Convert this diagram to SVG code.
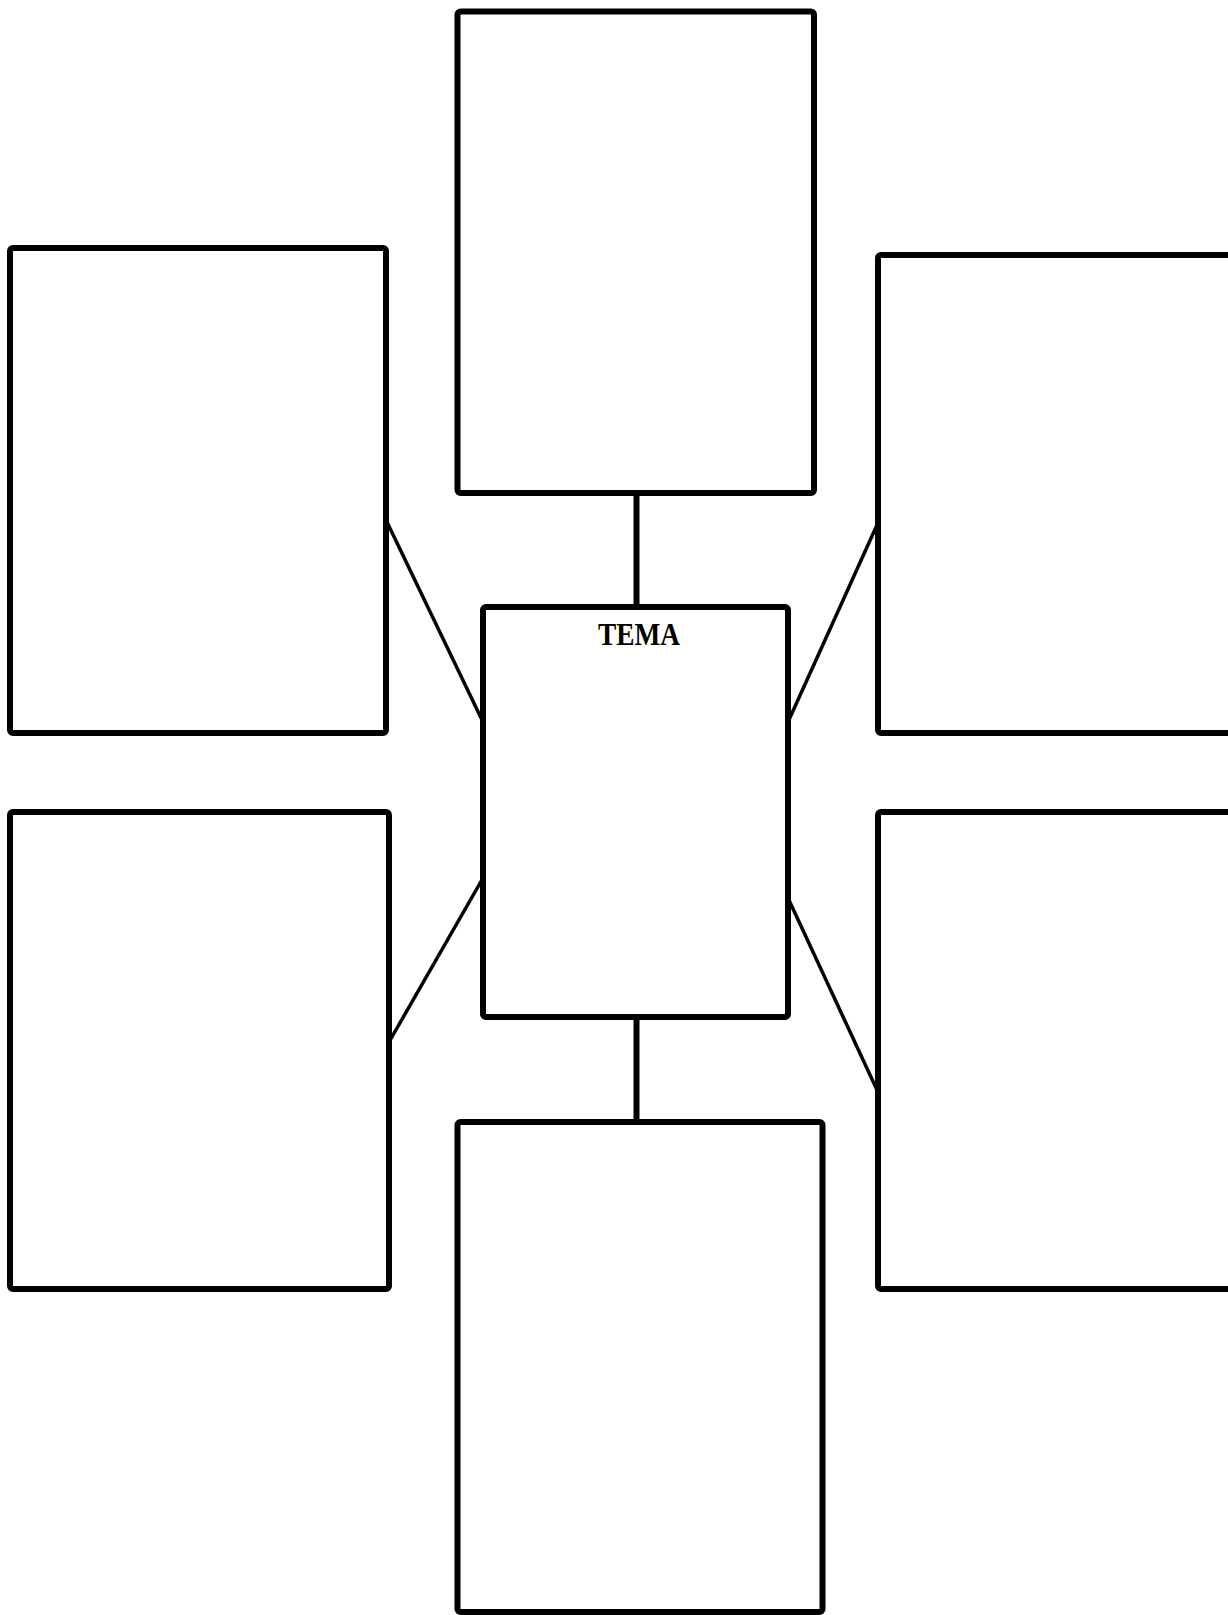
<svg xmlns="http://www.w3.org/2000/svg" width="1228" height="1615" viewBox="0 0 1228 1615">
<style>
.box{fill:#fff;stroke:#000;stroke-width:6}
.c{stroke:#000;fill:none}
.v{stroke-width:6}
.d{stroke-width:3.5}
.t{font-family:"Liberation Serif",serif;font-weight:bold;font-size:32px;fill:#000}
</style>
<rect width="1228" height="1615" fill="#fff"/>
<g id="connectors">
<line class="c v" x1="636.5" y1="493" x2="636.5" y2="607"/>
<line class="c v" x1="636.5" y1="1017" x2="636.5" y2="1122"/>
<line class="c d" x1="386" y1="520" x2="483" y2="722"/>
<line class="c d" x1="877" y1="525" x2="788" y2="722"/>
<line class="c d" x1="483" y1="878" x2="389" y2="1042"/>
<line class="c d" x1="788" y1="898" x2="877" y2="1090"/>
</g>
<g id="top"><rect class="box" x="457.5" y="11.5" width="356.5" height="481.5" rx="3"/></g>
<g id="left-top"><rect class="box" x="10" y="248" width="376" height="485" rx="3"/></g>
<g id="left-bottom"><rect class="box" x="10" y="812" width="379" height="477" rx="3"/></g>
<g id="right-top"><rect class="box" x="878" y="255" width="360" height="478" rx="3"/></g>
<g id="right-bottom"><rect class="box" x="878" y="812" width="360" height="477" rx="3"/></g>
<g id="bottom"><rect class="box" x="457.5" y="1122" width="365" height="490" rx="3"/></g>
<g id="center"><rect class="box" x="483" y="607" width="305" height="410" rx="3"/>
<text class="t" x="639" y="645" text-anchor="middle" textLength="82" lengthAdjust="spacingAndGlyphs">TEMA</text></g>
</svg>
